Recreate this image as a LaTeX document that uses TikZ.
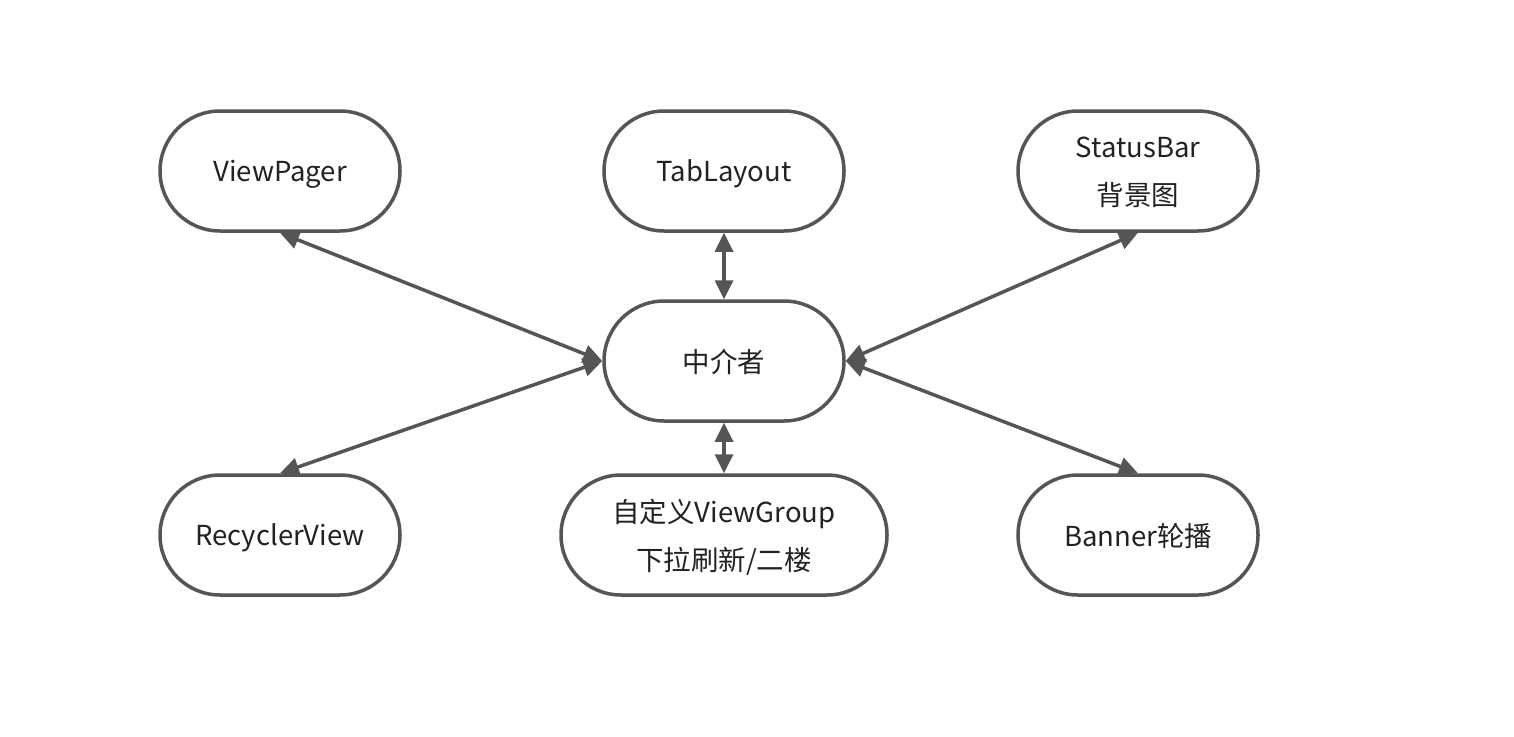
\documentclass[tikz,border=0pt]{standalone}
\usepackage{fontspec}
\setmainfont{Noto Sans CJK SC}
\usepackage{xcolor}
\usetikzlibrary{positioning, arrows.meta, shapes.misc}
\definecolor{linegray}{RGB}{85, 85, 85}
\definecolor{textdark}{RGB}{34, 34, 34}
\tikzset{
    pillnode/.style={
        rounded rectangle, draw=linegray, line width=3.5pt, fill=white,
        minimum width=240pt, minimum height=120pt, inner sep=0pt,
        align=center, text=textdark, text depth=0pt,
        font=\fontsize{27.5}{48}\selectfont
    },
    linkptr/.style={
        {Triangle[length=19pt,width=18pt]}-{Triangle[length=19pt,width=18pt]},
        line width=3.5pt, draw=linegray
    }
}
\begin{document}
\begin{tikzpicture}[x=1pt, y=-1pt]
        \useasboundingbox[fill=white] (0,0) rectangle (1514,736);

        % ==========================================
        % NODE GIỮA
        % ==========================================
        \node[pillnode] (mediator) at (724,361) {中介者};

        % ==========================================
        % HÀNG TRÊN
        % ==========================================
        \node[pillnode] (viewpager) at (280,171) {ViewPager};
        \node[pillnode] (tablayout) at (724,171) {TabLayout};
        \node[pillnode] (statusbar) at (1138,171) {StatusBar\\背景图};

        % ==========================================
        % HÀNG DƯỚI
        % ==========================================
        \node[pillnode] (recycler) at (280,535) {RecyclerView};
        \node[pillnode, minimum width=326pt] (viewgroup) at (724,535) {自定义ViewGroup\\下拉刷新/二楼};
        \node[pillnode] (banner) at (1138,535) {Banner轮播};

        % ==========================================
        % MŨI TÊN HAI CHIỀU
        % ==========================================
        \draw[linkptr] (viewpager.south) -- (mediator.west);
        \draw[linkptr] (recycler.north) -- (mediator.west);
        \draw[linkptr] (statusbar.south) -- (mediator.east);
        \draw[linkptr] (banner.north) -- (mediator.east);
        \draw[linkptr] (tablayout.south) -- (mediator.north);
        \draw[linkptr] (viewgroup.north) -- (mediator.south);

\end{tikzpicture}
\end{document}
